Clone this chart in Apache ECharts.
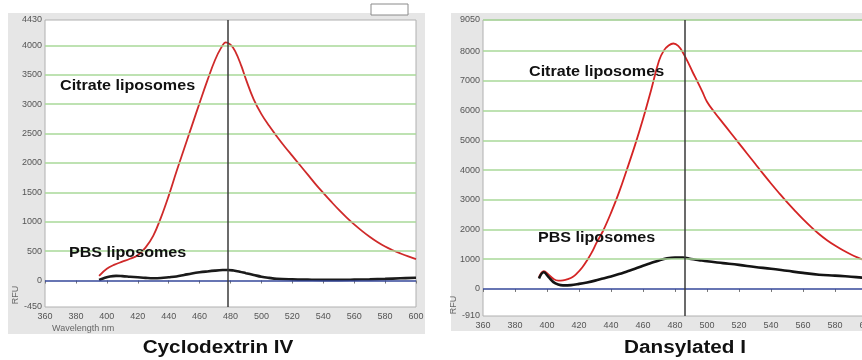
<!DOCTYPE html>
<html>
<head>
<meta charset="utf-8">
<script src="https://cdn.jsdelivr.net/npm/echarts@6/dist/echarts.min.js"></script>
<style>
  html, body { margin: 0; padding: 0; background: #fff; }
  #chart { width: 862px; height: 360px; }
</style>
</head>
<body>
<div id="chart"></div>
<script>
// wavelength ticks (nm)
const xTicks = [360, 380, 400, 420, 440, 460, 480, 500, 520, 540, 560, 580, 600];

// Cyclodextrin IV panel
const cdYTicks = [-450, 0, 500, 1000, 1500, 2000, 2500, 3000, 3500, 4000, 4430];
const cdGridLines = [500, 1000, 1500, 2000, 2500, 3000, 3500, 4000];
const cdMarker = 478;
const cdCitrateWave = [395, 400, 405, 410, 415, 420, 425, 430, 435, 440, 445, 450, 455, 460, 465, 470, 474, 477, 480, 483, 487, 490, 495, 500, 505, 510, 515, 520, 525, 530, 535, 540, 545, 550, 555, 560, 565, 570, 575, 580, 585, 590, 595, 600];
const cdCitrate = [80, 200, 270, 320, 370, 430, 560, 760, 1070, 1440, 1850, 2240, 2630, 3020, 3400, 3750, 3960, 4050, 4010, 3900, 3650, 3420, 3080, 2830, 2630, 2450, 2280, 2120, 1960, 1800, 1640, 1490, 1345, 1205, 1075, 955, 845, 745, 655, 578, 515, 460, 410, 365];
const cdPbsWave = [395, 398, 402, 406, 410, 415, 420, 425, 430, 435, 440, 445, 450, 455, 460, 465, 470, 475, 478, 482, 486, 490, 495, 500, 505, 510, 520, 530, 540, 550, 560, 570, 580, 590, 600];
const cdPbs = [10, 40, 70, 80, 75, 65, 55, 45, 38, 42, 55, 70, 95, 120, 140, 155, 168, 178, 180, 170, 150, 125, 95, 65, 45, 30, 20, 15, 12, 12, 15, 20, 28, 38, 48];

// Dansylated I panel
const dnYTicks = [-910, 0, 1000, 2000, 3000, 4000, 5000, 6000, 7000, 8000, 9050];
const dnGridLines = [1000, 2000, 3000, 4000, 5000, 6000, 7000, 8000, 9050];
const dnMarker = 486;
const dnCitrateWave = [395, 398, 401, 404, 407, 410, 413, 416, 419, 422, 425, 428, 431, 435, 440, 445, 450, 455, 460, 465, 470, 473, 476, 479, 482, 485, 488, 491, 494, 497, 500, 505, 510, 515, 520, 525, 530, 535, 540, 545, 550, 555, 560, 565, 570, 575, 580, 585, 590, 595, 600];
const dnCitrate = [400, 600, 480, 340, 280, 290, 330, 400, 540, 720, 960, 1230, 1560, 1950, 2560, 3250, 4030, 4840, 5720, 6680, 7680, 8020, 8190, 8260, 8180, 7950, 7640, 7300, 6980, 6650, 6300, 5920, 5580, 5240, 4900, 4560, 4220, 3880, 3550, 3230, 2920, 2630, 2350, 2090, 1850, 1640, 1460, 1300, 1160, 1040, 930];
const dnPbsWave = [395, 398, 401, 404, 407, 410, 415, 420, 425, 430, 435, 440, 445, 450, 455, 460, 465, 470, 475, 480, 485, 490, 495, 500, 510, 520, 530, 540, 550, 560, 570, 580, 590, 600];
const dnPbs = [350, 560, 400, 230, 150, 120, 130, 170, 220, 280, 350, 420, 500, 590, 680, 780, 870, 960, 1030, 1060, 1060, 1010, 970, 930, 870, 810, 740, 680, 610, 540, 480, 450, 410, 370];

const pairs = (xs, ys) => xs.map((x, i) => [x, ys[i]]);

const chart = echarts.init(document.getElementById("chart"));

const tickFont = { color: "#555", fontSize: 9, fontFamily: "Liberation Sans, Arial, sans-serif" };
const labelFont = "bold 14px Liberation Sans, Arial, sans-serif";
const titleFont = "bold 18px Liberation Sans, Arial, sans-serif";

function xAxis(gridIndex) {
  return {
    type: "value",
    gridIndex,
    min: 360,
    max: 600,
    interval: 20,
    axisLine: { show: false },
    axisTick: { show: true, length: 3, lineStyle: { color: "#777" } },
    axisLabel: { ...tickFont, margin: 5, customValues: xTicks, formatter: (v) => String(v) },
    splitLine: { show: false },
  };
}

function yAxis(gridIndex, ticks) {
  return {
    type: "value",
    gridIndex,
    min: ticks[0],
    max: ticks[ticks.length - 1],
    axisLine: { show: false },
    axisTick: { show: false },
    axisLabel: { ...tickFont, margin: 3, customValues: ticks, formatter: (v) => String(v) },
    splitLine: { show: false },
  };
}

function guides(gridLines, marker) {
  return {
    silent: true,
    symbol: "none",
    label: { show: false },
    animation: false,
    data: [
      ...gridLines.map((v) => ({ yAxis: v, lineStyle: { color: "#a8d898", width: 1.5, type: "solid" } })),
      { yAxis: 0, lineStyle: { color: "#34479a", width: 1.5, type: "solid" } },
      { xAxis: marker, lineStyle: { color: "#3a3a3a", width: 1.5, type: "solid" } },
    ],
  };
}

function curve(name, idx, data, color, width, extra) {
  return {
    name,
    type: "line",
    xAxisIndex: idx,
    yAxisIndex: idx,
    data,
    smooth: 0.4,
    symbol: "none",
    lineStyle: { color, width },
    z: 3,
    ...extra,
  };
}

function label(text, x, y, font, extra) {
  return { type: "text", x, y, z: 50, scaleX: 1.15, style: { text, fill: "#111", font, verticalAlign: "middle", ...extra } };
}

const option = {
  animation: false,
  grid: [
    { left: 45, top: 20, width: 371, height: 287, show: true, backgroundColor: "#fff", borderColor: "#b0b0b0", borderWidth: 1, outerBoundsMode: "none" },
    { left: 483, top: 20, right: -5, height: 296, show: true, backgroundColor: "#fff", borderColor: "#b0b0b0", borderWidth: 1, outerBoundsMode: "none" },
  ],
  xAxis: [xAxis(0), xAxis(1)],
  yAxis: [yAxis(0, cdYTicks), yAxis(1, dnYTicks)],
  series: [
    curve("Citrate liposomes", 0, pairs(cdCitrateWave, cdCitrate), "#cf2a2a", 1.8, { markLine: guides(cdGridLines, cdMarker) }),
    curve("PBS liposomes", 0, pairs(cdPbsWave, cdPbs), "#1b1b1b", 2.6, { z: 4 }),
    curve("Citrate liposomes", 1, pairs(dnCitrateWave, dnCitrate), "#d42424", 1.8, { markLine: guides(dnGridLines, dnMarker) }),
    curve("PBS liposomes", 1, pairs(dnPbsWave, dnPbs), "#141414", 2.6, { z: 4 }),
  ],
  graphic: [
    // instrument window panels
    { type: "rect", z: -10, shape: { x: 8, y: 13, width: 417, height: 321 }, style: { fill: "#e6e6e6" } },
    { type: "rect", z: -10, shape: { x: 451, y: 13, width: 420, height: 318 }, style: { fill: "#e6e6e6" } },
    { type: "rect", z: -5, shape: { x: 371, y: 4, width: 37, height: 11 }, style: { fill: "#fff", stroke: "#8a8a8a", lineWidth: 1 } },

    { type: "text", x: 52, y: 329, z: 50, style: { text: "Wavelength nm", fill: "#666", font: "9px Liberation Sans, Arial, sans-serif", verticalAlign: "middle" } },
    { type: "text", x: 16, y: 295, rotation: Math.PI / 2, z: 50, style: { text: "RFU", fill: "#666", font: "9px Liberation Sans, Arial, sans-serif", align: "center", verticalAlign: "middle" } },
    { type: "text", x: 454, y: 305, rotation: Math.PI / 2, z: 50, style: { text: "RFU", fill: "#666", font: "9px Liberation Sans, Arial, sans-serif", align: "center", verticalAlign: "middle" } },

    label("Citrate liposomes", 60, 86, labelFont),
    label("PBS liposomes", 69, 253, labelFont),
    label("Citrate liposomes", 529, 72, labelFont),
    label("PBS liposomes", 538, 238, labelFont),

    label("Cyclodextrin IV", 218, 348, titleFont, { align: "center" }),
    label("Dansylated I", 685, 348, titleFont, { align: "center" }),
  ],
};

chart.setOption(option);
</script>
</body>
</html>
